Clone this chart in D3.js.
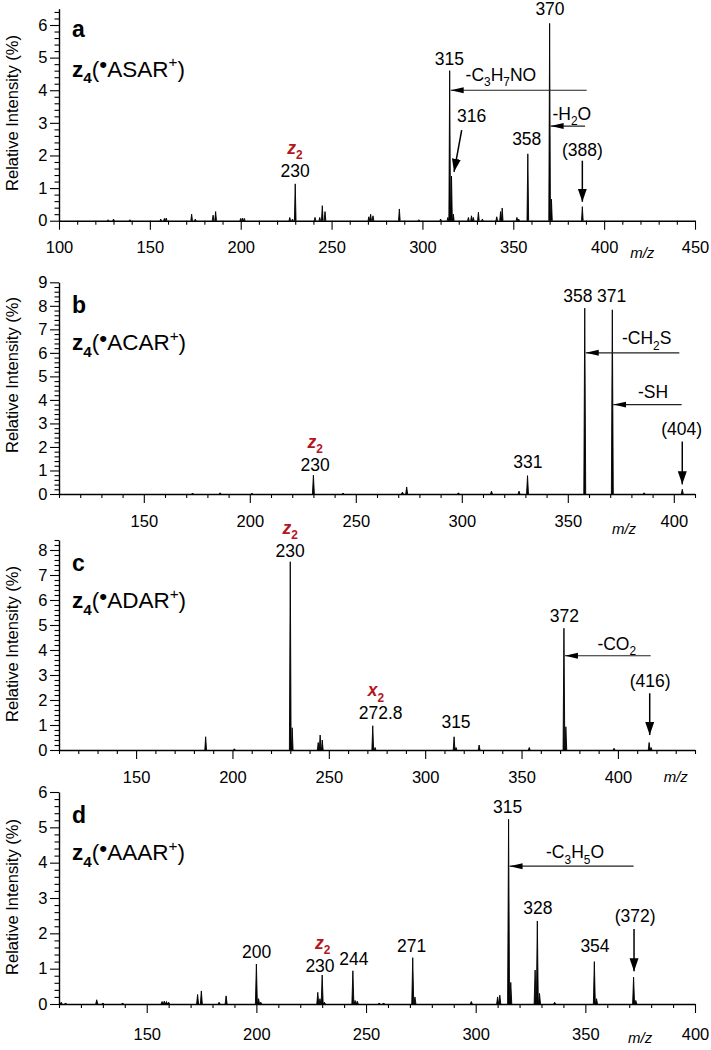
<!DOCTYPE html>
<html>
<head>
<meta charset="utf-8">
<script src="https://cdn.jsdelivr.net/npm/d3@7"></script>
<style>
  body { margin: 0; background: #fff; }
  svg text { font-family: Arial, "Liberation Sans", Helvetica, sans-serif; }
</style>
</head>
<body>
<div id="chart"></div>
<script>
/**
 * DATA — peaks as [m/z, relative intensity %]
 * */
const peaksA = [
  [127, 0.03], [130, 0.05], [139, 0.03], [156, 0.05], [158, 0.07], [159, 0.08],
  [173, 0.2], [175, 0.05], [184.8, 0.17], [186.2, 0.28], [200, 0.07], [201, 0.08], [202, 0.07],
  [227, 0.1], [228.5, 0.05], [230, 1.13], [240.9, 0.1], [243.5, 0.1], [244.9, 0.46], [246.4, 0.28],
  [270.5, 0.12], [271.5, 0.2], [272.8, 0.15], [287.3, 0.36], [298, 0.03], [310, 0.05],
  [314, 0.1], [315, 4.6], [316, 1.37], [317, 0.2],
  [325.3, 0.1], [327, 0.15], [328, 0.1], [330.8, 0.26], [333, 0.05],
  [340.9, 0.12], [343, 0.28], [343.9, 0.39], [352, 0.1], [353, 0.05],
  [358, 2.05], [370, 6.05], [371, 0.66], [388, 0.43]
];
const peaksB = [
  [173, 0.04], [186, 0.05], [201, 0.03], [230, 0.8], [244, 0.04],
  [272, 0.08], [274, 0.3], [298.4, 0.05], [314, 0.12], [327, 0.12], [331, 0.78],
  [358, 7.9], [371, 7.83], [386, 0.05], [404, 0.2]
];
const peaksC = [
  [186.1, 0.53], [201, 0.05], [230, 7.53], [231, 0.89],
  [244.5, 0.3], [245.5, 0.6], [246.6, 0.4], [272.8, 0.97], [274, 0.1],
  [315, 0.53], [316, 0.1], [328, 0.2], [354, 0.1],
  [372, 4.87], [373, 0.93], [398, 0.07], [416.2, 0.3], [417.2, 0.1]
];
const peaksD = [
  [111, 0.05], [113, 0.03], [127.2, 0.12], [130, 0.03], [139, 0.03],
  [157, 0.07], [158, 0.08], [159, 0.07], [160, 0.05],
  [173.2, 0.27], [174.9, 0.37], [183, 0.05], [186.2, 0.23],
  [200, 1.13], [201, 0.15], [202, 0.05],
  [228, 0.33], [229, 0.15], [230, 0.82], [231, 0.05],
  [244, 0.94], [245, 0.1], [246, 0.08], [256, 0.03], [258, 0.03],
  [271.3, 1.31], [272.3, 0.2], [298, 0.07], [310, 0.2], [311, 0.25],
  [315, 5.23], [316, 0.61], [327.1, 0.96], [328.1, 2.35], [329.1, 0.3], [336, 0.05],
  [354.1, 1.2], [355.1, 0.15], [372, 0.76], [373, 0.1]
];

// tick labels
const xTicksA = [100, 150, 200, 250, 300, 350, 400, 450];
const xTicksBCD = [150, 200, 250, 300, 350, 400];
const yTicksA = [0, 1, 2, 3, 4, 5, 6];
const yTicksB = [0, 1, 2, 3, 4, 5, 6, 7, 8, 9];
const yTicksC = [0, 1, 2, 3, 4, 5, 6, 7, 8];
const yTicksD = [0, 1, 2, 3, 4, 5, 6];

// precursor ions
const ions = ["ASAR", "ACAR", "ADAR", "AAAR"];

// peak labels: [text, m/z, intensity]
const labelsA = [["230", 229.9, 1.35], ["315", 314.8, 4.77], ["316", 327.1, 3.03],
  ["358", 357.4, 2.32], ["370", 370.2, 6.3], ["(388)", 388, 1.98]];
const labelsB = [["230", 230.8, 0.98], ["331", 331.2, 1.09], ["358", 354.8, 8.18],
  ["371", 370.7, 8.18], ["(404)", 403.7, 2.51]];
const labelsC = [["230", 229.9, 7.73], ["272.8", 276.9, 1.23], ["315", 316, 0.87],
  ["372", 372.2, 5.13], ["(416)", 416.7, 2.53]];
const labelsD = [["200", 200.1, 1.29], ["230", 229, 0.91], ["244", 244.5, 1.1],
  ["271", 270.8, 1.48], ["315", 314.6, 5.4], ["328", 328.4, 2.54],
  ["354", 354.4, 1.48], ["(372)", 372.7, 2.33]];

// fragment-type labels (red): [letter, subscript, m/z, intensity]
const typesA = [["z", "2", 229.9, 2.06]];
const typesB = [["z", "2", 230.8, 1.96]];
const typesC = [["z", "2", 229.9, 8.64], ["x", "2", 274.5, 2.15]];
const typesD = [["z", "2", 230.2, 1.55]];

// neutral losses: [formula, from m/z, to m/z, intensity of line, label m/z, label intensity]
const lossesA = [["-C_3H_7NO", 390.4, 315, 4.0, 343.2, 4.28], ["-H_2O", 389.5, 370, 2.9, 382.2, 3.09]];
const lossesB = [["-CH_2S", 402.6, 358, 6.0, 387.2, 6.36], ["-SH", 403.7, 371, 3.8, 390.2, 4.07]];
const lossesC = [["-CO_2", 417, 372, 3.77, 399.4, 4.0]];
const lossesD = [["-C_3H_5O", 372, 315, 3.9, 345.3, 4.12]];

// pointer arrows: [m/z start, intensity start, m/z end, intensity end]
const pointersA = [[321.6, 2.78, 317.4, 1.5], [388, 1.84, 388, 0.58]];
const pointersB = [[404, 2.23, 404, 0.41]];
const pointersC = [[416.5, 2.27, 416.5, 0.6]];
const pointersD = [[372.2, 2.12, 372.2, 0.93]];

/**
 * LAYOUT
 * */
const width = 711, height = 1050;
const left = 59, right = 695;
const red = "#b3161c";

const panels = [
  { letter: "a", ion: ions[0], peaks: peaksA, labels: labelsA, types: typesA, losses: lossesA, pointers: pointersA,
    xDomain: [100, 450], xTicks: xTicksA, yMax: 6.5, yTicks: yTicksA,
    base: 220.7, top: 8.7, tickPad: 12, mz: [421, 37], yLabelMid: 113 },
  { letter: "b", ion: ions[1], peaks: peaksB, labels: labelsB, types: typesB, losses: lossesB, pointers: pointersB,
    xDomain: [110, 410], xTicks: xTicksBCD, yMax: 9, yTicks: yTicksB,
    base: 494, top: 282.3, tickPad: 12.5, mz: [376.5, 40], yLabelMid: 375 },
  { letter: "c", ion: ions[2], peaks: peaksC, labels: labelsC, types: typesC, losses: lossesC, pointers: pointersC,
    xDomain: [110, 440], xTicks: xTicksBCD, yMax: 8.4, yTicks: yTicksC,
    base: 750, top: 540, tickPad: 12.5, mz: [430, 32], yLabelMid: 644 },
  { letter: "d", ion: ions[3], peaks: peaksD, labels: labelsD, types: typesD, losses: lossesD, pointers: pointersD,
    xDomain: [110, 400], xTicks: xTicksBCD, yMax: 6, yTicks: yTicksD,
    base: 1004, top: 792, tickPad: 15.5, mz: [375, 39], yLabelMid: 897 }
];

const svg = d3.select("#chart").append("svg")
  .attr("width", width).attr("height", height);

// arrowheads
const defs = svg.append("defs");
defs.append("marker").attr("id", "headThin")
  .attr("markerUnits", "userSpaceOnUse").attr("markerWidth", 14).attr("markerHeight", 8)
  .attr("viewBox", "0 -4 14 8").attr("refX", 13).attr("refY", 0).attr("orient", "auto")
  .append("path").attr("d", "M0,-3L13,0L0,3Z").attr("fill", "#000");
defs.append("marker").attr("id", "headWide")
  .attr("markerUnits", "userSpaceOnUse").attr("markerWidth", 14).attr("markerHeight", 10)
  .attr("viewBox", "0 -5 14 10").attr("refX", 13).attr("refY", 0).attr("orient", "auto")
  .append("path").attr("d", "M0,-4.5L13,0L0,4.5Z").attr("fill", "#000");

// text with sub/superscripts. parts: {t, sub, sup, dot, bold, italic}
function rich(g, x, y, parts, size, anchor, color) {
  const t = g.append("text")
    .attr("x", x).attr("y", y)
    .attr("text-anchor", anchor || "middle")
    .attr("font-size", size)
    .attr("fill", color || "#000");
  let shift = 0;
  parts.forEach(p => {
    const target = p.sub ? 0.3 * size : p.sup ? -0.42 * size : p.dot ? -0.2 * size : 0;
    t.append("tspan")
      .attr("dy", target - shift)
      .attr("font-size", (p.sub || p.sup) ? size * 0.68 : size)
      .attr("font-weight", p.bold ? "bold" : null)
      .attr("font-style", p.italic ? "italic" : null)
      .text(p.t);
    shift = target;
  });
  return t;
}

// "-C_3H_7NO" -> parts
function formula(s) {
  const parts = [];
  for (let i = 0; i < s.length; i++) {
    if (s[i] === "_") { parts.push({ t: s[i + 1], sub: true }); i++; }
    else {
      const last = parts[parts.length - 1];
      if (last && !last.sub) last.t += s[i];
      else parts.push({ t: s[i] });
    }
  }
  return parts;
}

panels.forEach(p => {
  const x = d3.scaleLinear().domain(p.xDomain).range([left, right]);
  const y = d3.scaleLinear().domain([0, p.yMax]).range([p.base, p.top]);
  const g = svg.append("g").attr("class", "panel");

  // minor ticks
  const xMinor = d3.range(Math.ceil(p.xDomain[0] / 10) * 10, p.xDomain[1] + 0.1, 10)
    .filter(v => v % 50 !== 0);
  const yMinor = d3.range(0, p.yMax + 0.01, 0.2).filter(v => Math.abs(v - Math.round(v)) > 0.01);

  g.append("g").attr("transform", `translate(0,${p.base})`)
    .call(d3.axisBottom(x).tickValues(xMinor).tickSize(4).tickFormat(""))
    .call(a => a.select(".domain").remove());
  g.append("g").attr("transform", `translate(${left},0)`)
    .call(d3.axisLeft(y).tickValues(yMinor).tickSize(4.5).tickFormat(""))
    .call(a => a.select(".domain").remove());

  // spectrum: each peak as a narrow spike
  const line = d3.line().x(d => x(d[0])).y(d => y(d[1]));
  g.append("g").selectAll("path")
    .data(p.peaks)
    .join("path")
    .attr("d", d => line([[d[0] - 0.45, 0], [d[0], d[1]], [d[0] + 0.45, 0]]))
    .attr("fill", "#000")
    .attr("stroke", "#000")
    .attr("stroke-width", 0.9)
    .attr("stroke-linejoin", "round");

  // major axes
  const xAxis = g.append("g").attr("transform", `translate(0,${p.base})`)
    .call(d3.axisBottom(x).tickValues(p.xTicks).tickSize(9).tickPadding(p.tickPad).tickSizeOuter(0).tickFormat(d3.format("d")));
  const yAxis = g.append("g").attr("transform", `translate(${left},0)`)
    .call(d3.axisLeft(y).tickValues(p.yTicks).tickSize(9).tickPadding(2.5).tickSizeOuter(0).tickFormat(d3.format("d")));
  [xAxis, yAxis].forEach(a => {
    a.selectAll("text").attr("font-size", 16.5).attr("font-family", null).attr("fill", "#000");
    a.select(".domain").attr("stroke", "#000").attr("stroke-width", 1.4);
  });
  g.selectAll(".tick line").attr("stroke", "#000").attr("stroke-width", 1.1);

  // axis titles
  g.append("text")
    .attr("transform", `translate(12,${p.yLabelMid}) rotate(-90)`)
    .attr("text-anchor", "middle").attr("dominant-baseline", "central")
    .attr("font-size", 16.5)
    .text("Relative Intensity (%)");
  g.append("text")
    .attr("x", x(p.mz[0])).attr("y", p.base + p.mz[1])
    .attr("text-anchor", "middle").attr("font-size", 15).attr("font-style", "italic")
    .text("m/z");

  // panel letter and precursor ion
  g.append("text").attr("x", 72).attr("y", y(p.yMax) + (p.letter === "a" ? 28 : 31))
    .attr("font-size", 23).attr("font-weight", "bold").text(p.letter);
  rich(g, 72, y(p.yMax) + 68, [
    { t: "z", bold: true }, { t: "4", bold: true, sub: true }, { t: "(" },
    { t: "•", dot: true }, { t: p.ion }, { t: "+", sup: true }, { t: ")" }
  ], 22.5, "start");

  // neutral-loss arrows
  p.losses.forEach(l => {
    g.append("line")
      .attr("x1", x(l[1])).attr("x2", x(l[2]) + 1)
      .attr("y1", y(l[3])).attr("y2", y(l[3]))
      .attr("stroke", "#222").attr("stroke-width", 1.2)
      .attr("marker-end", "url(#headThin)");
    rich(g, x(l[4]), y(l[5]), formula(l[0]), 17.5, "middle");
  });

  // pointer arrows
  p.pointers.forEach(a => {
    g.append("line")
      .attr("x1", x(a[0])).attr("y1", y(a[1]))
      .attr("x2", x(a[2])).attr("y2", y(a[3]))
      .attr("stroke", "#000").attr("stroke-width", 1.5)
      .attr("marker-end", "url(#headWide)");
  });

  // peak labels
  g.append("g").selectAll("text")
    .data(p.labels)
    .join("text")
    .attr("x", d => x(d[1])).attr("y", d => y(d[2]))
    .attr("text-anchor", "middle").attr("font-size", 17.5)
    .text(d => d[0]);

  // fragment type labels
  p.types.forEach(t => {
    rich(g, x(t[2]), y(t[3]), [{ t: t[0], bold: true, italic: true }, { t: t[1], bold: true, sub: true }], 17.5, "middle", red);
  });
});
</script>
</body>
</html>
